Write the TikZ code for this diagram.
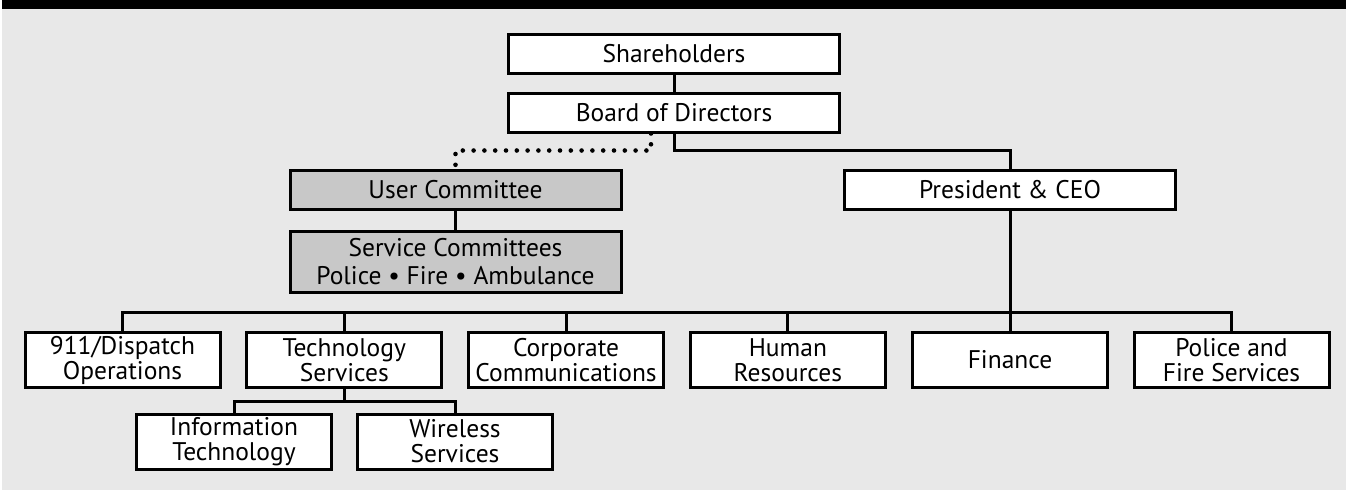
\documentclass[tikz,border=0pt]{standalone}
\usepackage{fontspec}
\setmainfont{PT Sans}
\usepackage{tikz}
\definecolor{panel}{RGB}{232,232,232}
\definecolor{committee}{RGB}{200,200,200}
\tikzstyle{unit}=[shape=rectangle,draw=black,fill=white,line width=3pt,align=center,inner sep=0pt,font=\fontsize{25.5}{25}\selectfont]
\tikzstyle{wide}=[unit,minimum width=331pt,minimum height=39pt]
\tikzstyle{dept}=[unit,minimum width=195pt,minimum height=55pt]
\tikzstyle{comm}=[wide,fill=committee]
\tikzstyle{link}=[line width=3pt]
\tikzstyle{advisory}=[line width=4.6pt,line cap=round,dash pattern=on 0pt off 10.8pt]

\begin{document}
\begin{tikzpicture}[x=1pt,y=-1pt]

		% frame
		\fill[white] (0,0) rectangle (1346,491);
		\fill[black] (2,0) rectangle (1346,9);
		\fill[panel] (2,9) rectangle (1346,490);

		% governance
		\node[wide] (share) at (674,53.5) {Shareholders};
		\node[wide] (board) at (674,112.5) {Board of Directors};
		\node[wide] (ceo) at (1010,190) {President \& CEO};
		\node[comm] (user) at (455.5,190) {User Committee};
		\node[comm,minimum height=61pt,font=\fontsize{25.5}{28}\selectfont] (service) at (455.5,262) {Service Committees\\Police • Fire • Ambulance};

		% departments
		\node[dept] (dispatch) at (122.5,360) {911/Dispatch\\Operations};
		\node[dept] (tech) at (344.3,360) {Technology\\Services};
		\node[dept] (corp) at (566.1,360) {Corporate\\Communications};
		\node[dept] (hr) at (787.9,360) {Human\\Resources};
		\node[dept] (fin) at (1010,360) {Finance};
		\node[dept] (police) at (1231.5,360) {Police and\\Fire Services};

		% sections
		\node[dept] (infotech) at (234,441.5) {Information\\Technology};
		\node[dept] (wireless) at (455,441.5) {Wireless\\Services};

		\coordinate (bus) at (0,312.7);
		\coordinate (subbus) at (0,401.7);

		% connectors
		\draw[link] (share) -- (board);
		\draw[link] (board.south) -- ++(0,17) -| (ceo.north);
		\draw[advisory] ([xshift=-23pt]board.south) -- ++(0,17) -| (user.north);
		\draw[link] (user) -- (service);
		\draw[link] (ceo.south) -- (ceo.south |- bus);
		\draw[link] (dispatch.north) |- (police.north |- bus) -- (police.north);
		\draw[link] (tech.north) -- (tech.north |- bus);
		\draw[link] (corp.north) -- (corp.north |- bus);
		\draw[link] (hr.north) -- (hr.north |- bus);
		\draw[link] (fin.north) -- (fin.north |- bus);
		\draw[link] (tech.south) -- (tech.south |- subbus);
		\draw[link] (infotech.north) |- (wireless.north |- subbus) -- (wireless.north);

\end{tikzpicture}
\end{document}
